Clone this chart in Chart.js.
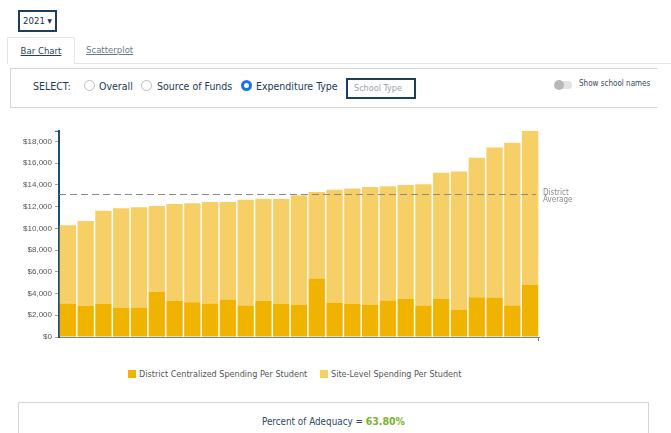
<!DOCTYPE html>
<html>
<head>
<meta charset="utf-8">
<script src="https://cdn.jsdelivr.net/npm/chart.js@4.4.0/dist/chart.umd.min.js"></script>
<style>
  body { margin: 0; width: 671px; height: 433px; overflow: hidden; background: #fff;
         font-family: "DejaVu Sans Condensed", "Liberation Sans", sans-serif; color: #1b3a57; }
  .abs { position: absolute; }
  #year { left: 18px; top: 10px; width: 35px; height: 18px; border: 2px solid #1d3f5e; font-size: 9.5px;
          line-height: 18px; text-align: center; color: #1b2f45; }
  #tab1 { left: 7px; top: 37px; width: 66px; height: 26px; border: 1px solid #e4e4e4; border-bottom: none;
          font-size: 9.5px; line-height: 26px; text-align: center; color: #2b3f55; text-decoration: underline; }
  #tab2 { left: 86px; top: 37px; height: 26px; font-size: 9.5px; line-height: 26px; color: #6d7a86; text-decoration: underline; }
  #tabline { left: 74px; top: 63px; width: 597px; border-top: 1px solid #e4e4e4; }
  #panel { left: 10px; top: 68px; width: 646px; height: 38px; border: 1px solid #d6d6d6; border-right: none; }
  .lbl { font-size: 10.5px; top: 80px; line-height: 12px; color: #1b3a57; }
  .radio { top: 80px; width: 11px; height: 11px; border: 1px solid #b9bec4; border-radius: 50%; box-sizing: border-box; }
  .radio.on { border: 3px solid #1a73e8; background: #fff; }
  #stype { left: 346px; top: 78px; height: 17px; border: 2px solid #1d3f5e; font-size: 9px;
           line-height: 17px; color: #9aa3ab; padding-left: 6px; width: 60px; }
  #toggle { left: 555px; top: 81px; width: 17px; height: 8px; border-radius: 5px; background: #e3e3e3; }
  #knob { left: 554px; top: 80px; width: 10px; height: 10px; border-radius: 50%; background: #b8b8b8; }
  #shownames { left: 579px; top: 79px; font-size: 8px; color: #3b4a58; }
  #wrap { left: 0; top: 123px; width: 600px; height: 222px; }
  #legend { left: 0; top: 369px; width: 600px; font-size: 9px; color: #555; }
  .sw { display: inline-block; width: 8px; height: 8px; vertical-align: -1px; margin-right: 3px; }
  #box { left: 18px; top: 402px; width: 629px; height: 40px; border: 1px solid #d6d6d6; text-align: center;
         font-size: 9.8px; color: #2b4a66; line-height: 36px; }
  #pct { color: #7bb32e; font-weight: bold; font-size: 10.5px; }
</style>
</head>
<body>
<div class="abs" id="year">2021 &#9662;</div>
<div class="abs" id="tab1">Bar Chart</div>
<div class="abs" id="tab2">Scatterplot</div>
<div class="abs" id="tabline"></div>
<div class="abs" id="panel"></div>
<div class="abs lbl" style="left:33px">SELECT:</div>
<div class="abs radio" style="left:84px"></div>
<div class="abs lbl" style="left:99px">Overall</div>
<div class="abs radio" style="left:141px"></div>
<div class="abs lbl" style="left:157px">Source of Funds</div>
<div class="abs radio on" style="left:241px"></div>
<div class="abs lbl" style="left:256px">Expenditure Type</div>
<div class="abs" id="stype">School Type</div>
<div class="abs" id="toggle"></div>
<div class="abs" id="knob"></div>
<div class="abs" id="shownames">Show school names</div>

<div class="abs" id="wrap"><canvas id="chart"></canvas></div>

<div class="abs" id="legend">
  <span class="abs" style="left:128px"><span class="sw" style="background:#f0b400"></span>District Centralized Spending Per Student</span>
  <span class="abs" style="left:320px"><span class="sw" style="background:#f6cf66"></span>Site-Level Spending Per Student</span>
</div>

<div class="abs" id="box">Percent of Adequacy = <span id="pct">63.80%</span></div>

<script>
// schools, sorted by total spending per student (names hidden in the picture)
var schools = [];
for (var i = 1; i <= 27; i++) schools.push('School ' + i);

var centralized = [3090, 2850, 3030, 2660, 2720, 4160, 3310, 3210, 3090, 3460, 2910, 3310, 3030, 2970,
                   5390, 3120, 3030, 2970, 3370, 3490, 2910, 3490, 2480, 3670, 3640, 2910, 4780];
var siteLevel = [7190, 7830, 8600, 9190, 9220, 7900, 8930, 9090, 9340, 8970, 9730, 9390, 9670, 10070,
                 7960, 10440, 10650, 10830, 10500, 10500, 11140, 11630, 12760, 12830, 13810, 14970, 14200];
var districtAverage = 13190;
var yTicks = [0, 2000, 4000, 6000, 8000, 10000, 12000, 14000, 16000, 18000];

var totals = centralized.map(function(v, i){ return v + siteLevel[i]; });
var yMax = Math.max.apply(null, totals);

// dashed district average line with its label on the right
var averageLine = {
  id: 'averageLine',
  afterDatasetsDraw: function(chart) {
    var ctx = chart.ctx, area = chart.chartArea;
    var y = chart.scales.y.getPixelForValue(districtAverage);
    ctx.save();
    // small end tick at the top of the y axis
    ctx.strokeStyle = '#1d4f73';
    ctx.lineWidth = 1;
    ctx.beginPath();
    ctx.moveTo(area.left - 4, area.top + 0.5);
    ctx.lineTo(area.left, area.top + 0.5);
    ctx.stroke();
    // end tick at the right of the x axis
    ctx.strokeStyle = '#6f8796';
    ctx.beginPath();
    ctx.moveTo(area.right - 0.5, area.bottom);
    ctx.lineTo(area.right - 0.5, area.bottom + 4);
    ctx.stroke();

    ctx.strokeStyle = '#8a8a8a';
    ctx.setLineDash([7, 4]);
    ctx.beginPath();
    ctx.moveTo(area.left, Math.round(y) + 0.5);
    ctx.lineTo(area.right - 3, Math.round(y) + 0.5);
    ctx.stroke();
    ctx.fillStyle = '#8a8a8a';
    ctx.font = '8px "DejaVu Sans Condensed", sans-serif';
    ctx.textBaseline = 'middle';
    ctx.fillText('District', area.right + 4, y - 1);
    ctx.fillText('Average', area.right + 4, y + 6);
    ctx.restore();
  }
};

var ctx = document.getElementById('chart').getContext('2d');
var myChart = new Chart(ctx, {
  type: 'bar',
  data: {
    labels: schools,
    datasets: [{
      label: 'District Centralized Spending Per Student',
      data: centralized,
      backgroundColor: '#f0b400',
      barPercentage: 0.92,
      categoryPercentage: 1
    }, {
      label: 'Site-Level Spending Per Student',
      data: siteLevel,
      backgroundColor: '#f6cf66',
      barPercentage: 0.92,
      categoryPercentage: 1
    }]
  },
  options: {
    responsive: true,
    maintainAspectRatio: false,
    animation: false,
    layout: { padding: { left: 0, right: 61, top: 5, bottom: 0 } },
    plugins: { legend: { display: false }, tooltip: { enabled: false } },
    scales: {
      x: {
        stacked: true,
        grid: { display: false },
        ticks: { display: false },
        border: { display: true, color: '#6f8796', width: 1 },
        afterFit: function(scale) { scale.height = 8; }
      },
      y: {
        stacked: true,
        min: 0,
        max: yMax,
        afterBuildTicks: function(scale) {
          scale.ticks = yTicks.map(function(v){ return { value: v }; });
        },
        ticks: {
          color: '#555',
          font: { size: 8, family: '"Liberation Sans", Arial, sans-serif' },
          padding: 3,
          callback: function(v) { return '$' + v.toLocaleString('en-US'); }
        },
        grid: { drawOnChartArea: false, drawTicks: true, tickLength: 4, color: '#9aa3aa' },
        border: { display: true, color: '#1d4f73', width: 2 },
        afterFit: function(scale) { scale.width = 59; }
      }
    }
  },
  plugins: [averageLine]
});
</script>
</body>
</html>
